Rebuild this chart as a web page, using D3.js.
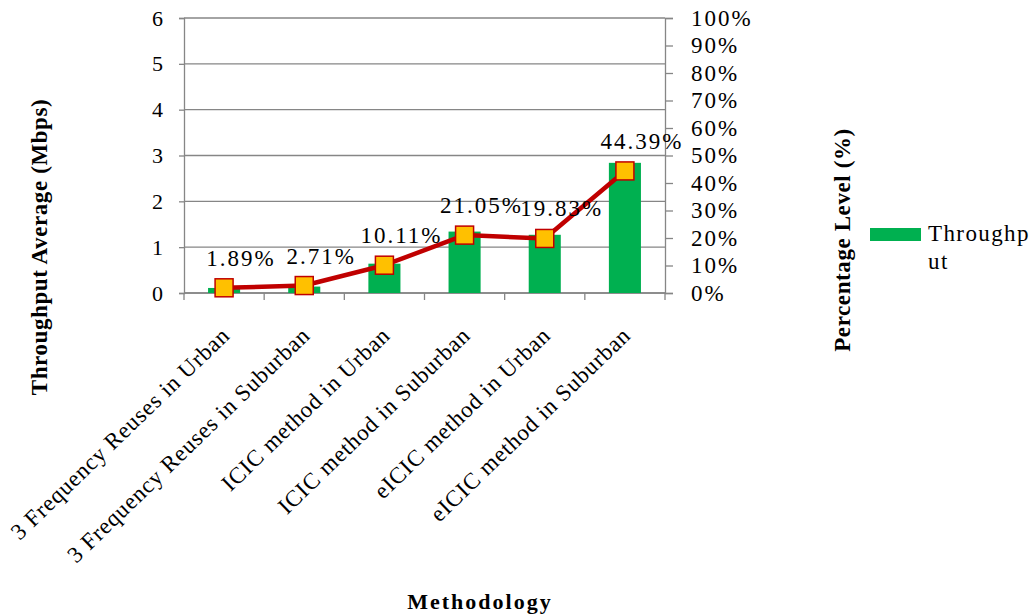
<!DOCTYPE html>
<html>
<head>
<meta charset="utf-8">
<script src="https://cdn.jsdelivr.net/npm/d3@7"></script>
<style>
  body { margin: 0; background: #fff; }
  text { font-family: "Liberation Serif", "DejaVu Serif", serif; fill: #000; }
</style>
</head>
<body>
<div id="chart"></div>
<script>
// data
var categories = [
  "3 Frequency Reuses in Urban",
  "3 Frequency Reuses in Suburban",
  "ICIC method in Urban",
  "ICIC method in Suburban",
  "eICIC method in Urban",
  "eICIC method in Suburban"
];
var throughput = [0.11, 0.14, 0.64, 1.34, 1.27, 2.84];
var percentLevel = [1.89, 2.71, 10.11, 21.05, 19.83, 44.39];
var leftTicks = [0, 1, 2, 3, 4, 5, 6];
var rightTicks = [0, 10, 20, 30, 40, 50, 60, 70, 80, 90, 100];

var W = 1032, H = 616;
var plot = { left: 184, right: 665, top: 18, bottom: 293 };
var axisGrey = "#868686";

var svg = d3.select("#chart").append("svg")
  .attr("width", W)
  .attr("height", H);

svg.append("rect").attr("width", W).attr("height", H).attr("fill", "#fff");

var x = d3.scaleBand().domain(categories).range([plot.left, plot.right]).paddingInner(0).paddingOuter(0);
var y = d3.scaleLinear().domain([0, 6]).range([plot.bottom, plot.top]);
var y2 = d3.scaleLinear().domain([0, 100]).range([plot.bottom, plot.top]);

// gridlines
svg.append("g").selectAll("line")
  .data(leftTicks)
  .enter().append("line")
  .attr("x1", plot.left).attr("x2", plot.right)
  .attr("y1", function(d) { return y(d); })
  .attr("y2", function(d) { return y(d); })
  .attr("stroke", axisGrey).attr("stroke-width", 1.3);

// left axis
var gLeft = svg.append("g")
  .attr("transform", "translate(" + plot.left + ",0)")
  .call(d3.axisLeft(y).tickValues(leftTicks).tickSize(5).tickPadding(16).tickFormat(d3.format("d")));
gLeft.select(".domain").attr("stroke", axisGrey).attr("stroke-width", 1.3);
gLeft.selectAll(".tick line").attr("stroke", axisGrey).attr("stroke-width", 1.3);
gLeft.selectAll("text").style("font-size", "22px").style("font-family", "Liberation Serif").attr("fill", "#000");

// right axis
var gRight = svg.append("g")
  .attr("transform", "translate(" + plot.right + ",0)")
  .call(d3.axisRight(y2).tickValues(rightTicks).tickSize(8).tickPadding(18).tickFormat(function(d) { return d + "%"; }));
gRight.select(".domain").attr("stroke", axisGrey).attr("stroke-width", 1.3);
gRight.selectAll(".tick line").attr("stroke", axisGrey).attr("stroke-width", 1.3);
gRight.selectAll("text").style("font-size", "23px").style("font-family", "Liberation Serif")
  .style("letter-spacing", "2px").attr("fill", "#000");

// bottom axis: ticks between categories
var boundaries = categories.map(function(c) { return x(c); }).concat([plot.right]);
svg.append("line")
  .attr("x1", plot.left).attr("x2", plot.right)
  .attr("y1", plot.bottom).attr("y2", plot.bottom)
  .attr("stroke", axisGrey).attr("stroke-width", 1.3);
svg.append("g").selectAll("line")
  .data(boundaries)
  .enter().append("line")
  .attr("x1", function(d) { return d; }).attr("x2", function(d) { return d; })
  .attr("y1", plot.bottom).attr("y2", plot.bottom + 7)
  .attr("stroke", axisGrey).attr("stroke-width", 1.3);

// category labels
svg.append("g").selectAll("text")
  .data(categories)
  .enter().append("text")
  .attr("transform", function(d) {
    return "translate(" + (x(d) + x.bandwidth() / 2 + 7) + "," + 337 + ") rotate(-44)";
  })
  .attr("text-anchor", "end")
  .style("font-size", "23px")
  .style("letter-spacing", "0.8px")
  .text(function(d) { return d; });

// bars
var barW = x.bandwidth() * 0.4;
svg.append("g").selectAll("rect")
  .data(throughput)
  .enter().append("rect")
  .attr("x", function(d, i) { return x(categories[i]) + (x.bandwidth() - barW) / 2; })
  .attr("width", barW)
  .attr("y", function(d) { return y(d); })
  .attr("height", function(d) { return plot.bottom - y(d); })
  .attr("fill", "#00B050");

// percentage line
var line = d3.line()
  .x(function(d, i) { return x(categories[i]) + x.bandwidth() / 2; })
  .y(function(d) { return y2(d); });

svg.append("path")
  .datum(percentLevel)
  .attr("d", line)
  .attr("fill", "none")
  .attr("stroke", "#C00000")
  .attr("stroke-width", 4.5)
  .attr("stroke-linejoin", "round");

var mk = 18;
svg.append("g").selectAll("rect")
  .data(percentLevel)
  .enter().append("rect")
  .attr("x", function(d, i) { return x(categories[i]) + x.bandwidth() / 2 - mk / 2; })
  .attr("y", function(d) { return y2(d) - mk / 2; })
  .attr("width", mk).attr("height", mk)
  .attr("fill", "#FFC000")
  .attr("stroke", "#C00000")
  .attr("stroke-width", 1.5);

// data labels
svg.append("g").selectAll("text")
  .data(percentLevel)
  .enter().append("text")
  .attr("x", function(d, i) { return x(categories[i]) + x.bandwidth() / 2 + 17; })
  .attr("y", function(d) { return y2(d) - 22; })
  .attr("text-anchor", "middle")
  .style("font-size", "23px")
  .style("letter-spacing", "2px")
  .text(function(d) { return d3.format(".2f")(d) + "%"; });

// axis titles
svg.append("text")
  .attr("transform", "translate(47,247) rotate(-90)")
  .attr("text-anchor", "middle")
  .style("font-size", "23px").style("font-weight", "bold").style("letter-spacing", "0.6px")
  .text("Throughput Average (Mbps)");

svg.append("text")
  .attr("transform", "translate(850,240) rotate(-90)")
  .attr("text-anchor", "middle")
  .style("font-size", "23px").style("font-weight", "bold").style("letter-spacing", "0.6px")
  .text("Percentage Level (%)");

svg.append("text")
  .attr("x", 480).attr("y", 609)
  .attr("text-anchor", "middle")
  .style("font-size", "22px").style("font-weight", "bold").style("letter-spacing", "2px")
  .text("Methodology");

// legend
svg.append("rect")
  .attr("x", 870).attr("y", 228).attr("width", 51).attr("height", 13)
  .attr("fill", "#00B050");
var leg = svg.append("text")
  .attr("x", 928).attr("y", 241)
  .style("font-size", "23px").style("letter-spacing", "1.4px");
leg.append("tspan").attr("x", 928).attr("dy", 0).text("Throughp");
leg.append("tspan").attr("x", 928).attr("dy", 28).text("ut");
</script>
</body>
</html>
